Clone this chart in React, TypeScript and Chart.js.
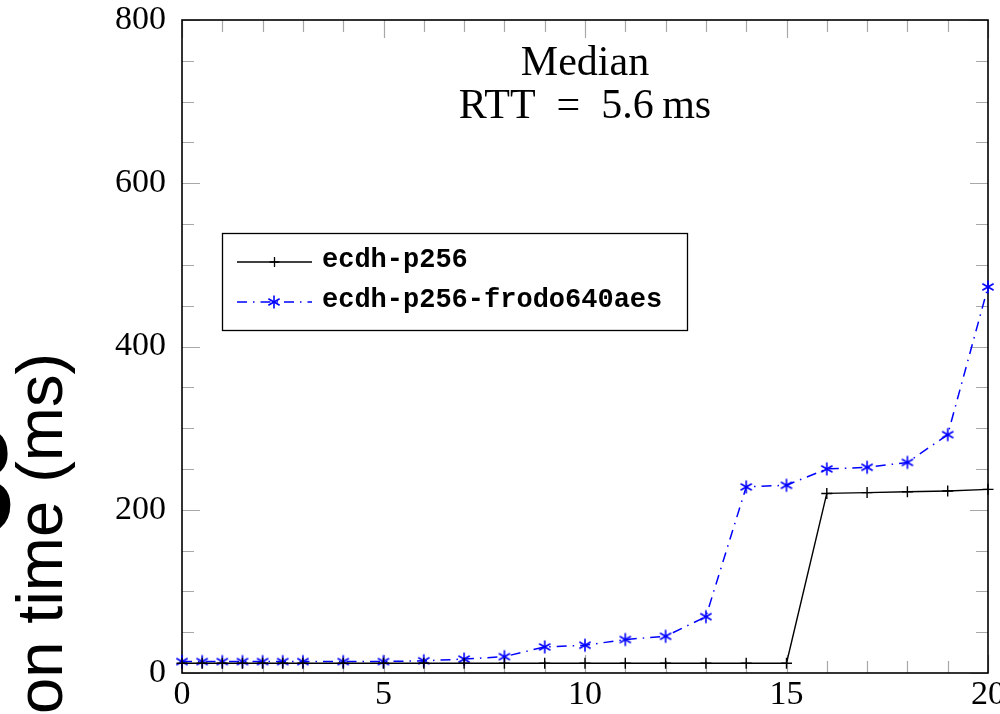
import React, { useEffect, useRef } from "react";
import { Chart, registerables } from "chart.js";

Chart.register(...registerables);

// ---- data ----
const xValues = [0, 0.5, 1, 1.5, 2, 2.5, 3, 4, 5, 6, 7, 8, 9, 10, 11, 12, 13, 14, 15, 16, 17, 18, 19, 20];
const ecdhP256 = [12, 12, 12, 12, 12, 12, 12, 12, 12, 12, 12, 12, 12, 12, 12, 12, 12, 12, 12, 220, 221, 222, 223, 225];
const ecdhFrodo = [14, 14, 14, 14, 14, 14, 14, 14, 14, 15, 17, 20, 32, 34, 41, 45, 69, 228, 230, 250, 252, 258, 292, 473];
const seriesLabels = ["ecdh-p256", "ecdh-p256-frodo640aes"];
const titleLines = ["Median", "RTT\u2002=\u20025.6\u2009ms"];
const yAxisLabel = "on time (ms)";
const croppedGlyph = "3";
const xTickStep = 5;
const xMinorStep = 1;
const yTickStep = 200;
const yMinorStep = 50;
const xMin = 0, xMax = 20, yMin = 0, yMax = 800;

const SERIF = "'Liberation Serif', 'DejaVu Serif', serif";
const SANS = "'Liberation Sans', Arial, sans-serif";
const MONO = "'Liberation Mono', 'DejaVu Sans Mono', monospace";
const BLUE = "#0000ff";
const TICK = "#a8a8a8";

function makeAsterisk(): HTMLCanvasElement {
  const c = document.createElement("canvas");
  c.width = 16; c.height = 16;
  const g = c.getContext("2d")!;
  g.strokeStyle = BLUE; g.lineWidth = 1.6; g.lineCap = "butt";
  const r = 6.5;
  for (const deg of [90, 30, 150]) {
    const a = (deg * Math.PI) / 180;
    g.beginPath();
    g.moveTo(8 - r * Math.cos(a), 8 - r * Math.sin(a));
    g.lineTo(8 + r * Math.cos(a), 8 + r * Math.sin(a));
    g.stroke();
  }
  return c;
}

export default function App() {
  const ref = useRef<HTMLCanvasElement>(null);
  useEffect(() => {
    const star = makeAsterisk();
    const decor = {
      id: "decor",
      beforeDatasetsDraw(chart: any) {
        const { ctx, chartArea: a, scales } = chart;
        const x = scales.x, y = scales.y;
        ctx.save();
        ctx.strokeStyle = TICK; ctx.lineWidth = 1.2;
        for (let v = xMin; v <= xMax + 1e-9; v += xMinorStep) {
          const px = Math.round(x.getPixelForValue(v)) + 0.5;
          const len = v % xTickStep === 0 ? 18 : 12;
          ctx.beginPath();
          ctx.moveTo(px, a.bottom); ctx.lineTo(px, a.bottom - len);
          ctx.moveTo(px, a.top); ctx.lineTo(px, a.top + len);
          ctx.stroke();
        }
        for (let v = yMin; v <= yMax + 1e-9; v += yMinorStep) {
          const py = Math.round(y.getPixelForValue(v)) + 0.5;
          const len = v % yTickStep === 0 ? 18 : 12;
          ctx.beginPath();
          ctx.moveTo(a.left, py); ctx.lineTo(a.left + len, py);
          ctx.moveTo(a.right, py); ctx.lineTo(a.right - len, py);
          ctx.stroke();
        }
        ctx.strokeStyle = "#000"; ctx.lineWidth = 1.6;
        ctx.strokeRect(a.left, a.top, a.right - a.left, a.bottom - a.top);
        ctx.restore();
      },
      afterDraw(chart: any) {
        const { ctx, chartArea: a } = chart;
        ctx.save();
        // title inside the plot
        const cx = (a.left + a.right) / 2;
        ctx.fillStyle = "#000";
        ctx.font = `42px ${SERIF}`;
        ctx.textAlign = "center";
        ctx.textBaseline = "alphabetic";
        ctx.fillText(titleLines[0], cx, 75);
        ctx.fillText(titleLines[1], cx, 118);

        // legend
        const lx = 222.5, ly = 233.5, lw = 465, lh = 97;
        ctx.fillStyle = "#fff";
        ctx.fillRect(lx, ly, lw, lh);
        ctx.strokeStyle = "#000"; ctx.lineWidth = 1.3;
        ctx.strokeRect(lx, ly, lw, lh);
        const rows = [262, 302];
        ctx.beginPath(); ctx.moveTo(237, rows[0]); ctx.lineTo(312, rows[0]); ctx.stroke();
        ctx.beginPath(); ctx.moveTo(274.5, rows[0] - 5); ctx.lineTo(274.5, rows[0] + 5);
        ctx.moveTo(269.5, rows[0]); ctx.lineTo(279.5, rows[0]); ctx.stroke();
        ctx.strokeStyle = BLUE; ctx.lineWidth = 1.5;
        ctx.setLineDash([10, 6, 1.5, 6]);
        ctx.beginPath(); ctx.moveTo(237, rows[1]); ctx.lineTo(312, rows[1]); ctx.stroke();
        ctx.setLineDash([]);
        ctx.drawImage(star, 274 - 8, rows[1] - 8);
        ctx.fillStyle = "#000";
        ctx.font = `bold 27px ${MONO}`;
        ctx.textAlign = "left"; ctx.textBaseline = "middle";
        ctx.fillText(seriesLabels[0], 322, rows[0] - 2);
        ctx.fillText(seriesLabels[1], 322, rows[1] - 2);

        // y axis label (rotated, cropped)
        ctx.save();
        ctx.translate(62, 714);
        ctx.rotate(-Math.PI / 2);
        ctx.font = `65px ${SANS}`;
        ctx.textAlign = "left"; ctx.textBaseline = "alphabetic";
        ctx.fillText(yAxisLabel, 0, 0);
        ctx.restore();

        // large glyph cropped at the left edge
        ctx.font = `bold 155px ${SANS}`;
        ctx.textAlign = "right"; ctx.textBaseline = "alphabetic";
        ctx.fillText(croppedGlyph, 16, 534);
        ctx.restore();
      },
    };

    const chart = new Chart(ref.current!, {
      type: "line",
      data: {
        datasets: [
          {
            label: seriesLabels[0],
            data: xValues.map((x, i) => ({ x, y: ecdhP256[i] })),
            borderColor: "#000",
            backgroundColor: "#000",
            borderWidth: 1.4,
            pointStyle: "cross",
            pointRadius: 5.5,
            pointBorderWidth: 1.4,
            pointBorderColor: "#000",
            tension: 0,
            clip: false as any,
          },
          {
            label: seriesLabels[1],
            data: xValues.map((x, i) => ({ x, y: ecdhFrodo[i] })),
            borderColor: BLUE,
            backgroundColor: BLUE,
            borderWidth: 1.5,
            borderDash: [10, 6, 1.5, 6],
            pointStyle: star as any,
            pointRadius: 7,
            tension: 0,
            clip: false as any,
          },
        ],
      },
      options: {
        responsive: false,
        animation: false,
        devicePixelRatio: 1,
        layout: { padding: { left: 0, right: 12, top: 20, bottom: 0 } },
        plugins: {
          legend: { display: false },
          tooltip: { enabled: false },
          title: { display: false },
        },
        scales: {
          x: {
            type: "linear",
            min: xMin,
            max: xMax,
            grid: { display: false, drawTicks: false },
            border: { display: false },
            ticks: {
              stepSize: xTickStep,
              color: "#000",
              font: { family: SERIF, size: 34 },
              padding: 2,
              maxRotation: 0,
              autoSkip: false,
            },
            afterFit(s: any) {
              s.height = 41;
              s.paddingLeft = 0;
              s.paddingRight = 0;
            },
          },
          y: {
            type: "linear",
            min: yMin,
            max: yMax,
            grid: { display: false, drawTicks: false },
            border: { display: false },
            ticks: {
              stepSize: yTickStep,
              color: "#000",
              font: { family: SERIF, size: 34 },
              padding: 16,
            },
            afterFit(s: any) {
              s.width = 182;
              s.paddingTop = 0;
              s.paddingBottom = 0;
            },
          },
        },
      },
      plugins: [decor],
    });
    return () => chart.destroy();
  }, []);

  return (
    <div style={{ position: "absolute", left: 0, top: 0, width: 1000, height: 714, background: "#fff" }}>
      <canvas ref={ref} width={1000} height={714} style={{ display: "block" }} />
    </div>
  );
}
